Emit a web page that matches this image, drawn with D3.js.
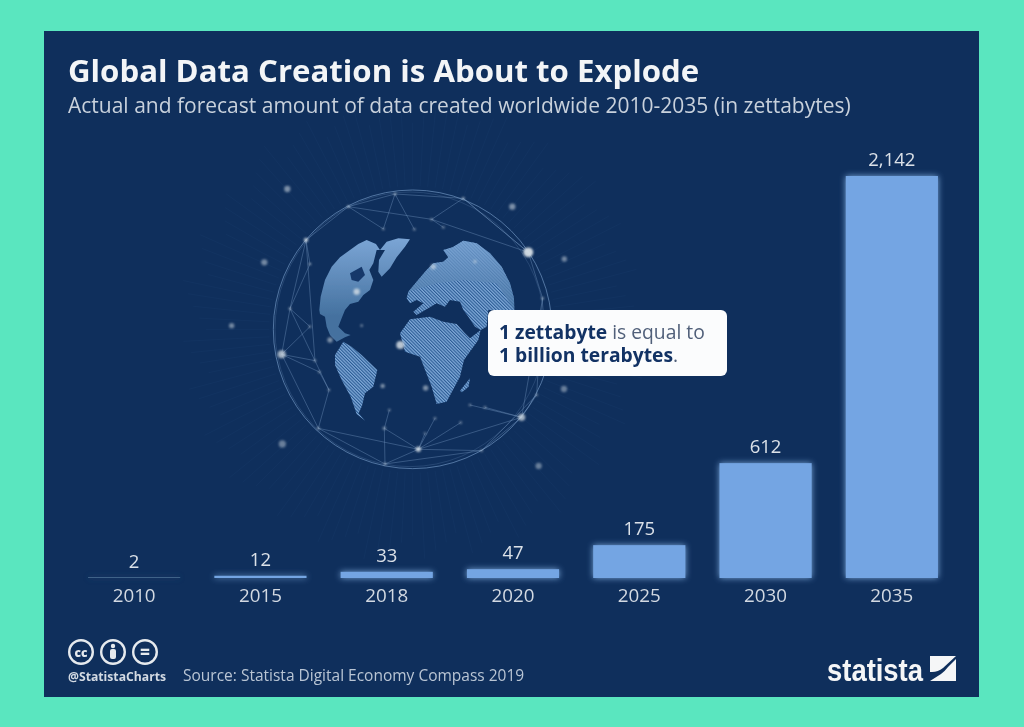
<!DOCTYPE html>
<html><head><meta charset="utf-8">
<script src="https://cdn.jsdelivr.net/npm/d3@7/dist/d3.min.js"></script>
<style>html,body{margin:0;padding:0;background:#5ae6bf;overflow:hidden}svg{display:block;font-family:"Open Sans",sans-serif;filter:blur(0.45px)}</style>
</head><body><svg id="c" width="1024" height="727"></svg>
<script>
const years = ["2010","2015","2018","2020","2025","2030","2035"];
const values = [2,12,33,47,175,612,2142];
const valueLabels = ["2","12","33","47","175","612","2,142"];

// Decorative globe artwork, in reference-crop coordinates
const land = {
  northAmerica:[[268,420],[272,380],[285,330],[305,290],[330,262],[360,240],[385,222],[410,210],[438,222],[450,240],[470,215],[505,205],[540,208],[525,230],[500,262],[480,295],[455,320],[445,305],[447,270],[465,240],[440,240],[430,280],[418,300],[430,330],[420,360],[400,375],[385,395],[360,402],[345,420],[335,445],[325,470],[345,490],[362,495],[345,502],[320,515],[300,495],[290,470],[285,440],[270,432]],
  southAmerica:[[315,555],[340,515],[365,530],[395,555],[442,600],[430,650],[405,670],[396,708],[386,730],[406,752],[380,732],[362,680],[335,630],[315,585]],
  africa:[[510,490],[540,448],[600,440],[640,455],[680,462],[705,490],[720,505],[752,480],[745,510],[702,570],[690,620],[650,695],[620,702],[605,650],[590,612],[570,560],[525,545]],
  eurasia:[[535,365],[560,335],[590,300],[610,280],[640,275],[655,262],[640,240],[668,232],[700,212],[740,220],[780,250],[815,290],[840,340],[852,385],[853,420],[775,420],[770,470],[752,480],[735,470],[715,440],[700,420],[690,395],[660,390],[645,410],[620,400],[600,412],[560,435],[550,425],[580,400],[560,390],[540,400],[530,385]],
  madagascar:[[690,662],[720,625],[716,650],[696,667]]
};
const hudsonBay = [[360,310],[395,290],[405,315],[385,335],[365,330]];
const nodes = [[172,57,7,.55],[847,110,7,.55],[895,247,11,.95],[1003,267,6,.5],[103,277,7,.5],[5,467,6,.5],[155,553,9,.75],[511,525,9,.85],[380,365,7,.8],[228,210,5,.8],[1002,657,7,.45],[875,742,8,.75],[565,838,6,.85],[157,822,8,.45],[926,888,7,.45],[458,648,5,.55],[587,654,6,.55],[610,290,6,.6],[735,275,4,.5],[300,510,6,.55],[495,72,3,.7],[700,85,3,.7],[355,110,3,.7],[240,282,3,.6],[180,416,3,.6],[240,470,3,.5],[255,572,3,.5],[268,606,3,.5],[297,660,3,.5],[265,775,3,.6],[465,882,3,.6],[755,842,3,.5],[920,675,3,.5],[938,385,3,.6],[478,720,3,.5],[463,775,4,.5],[615,745,3,.5],[692,758,3,.5],[585,790,3,.4],[720,705,3,.5],[765,712,3,.5],[460,177,3,.5],[553,178,3,.5],[640,172,3,.5],[605,148,3,.5],[395,467,3,.5]];
const links = [[20,21],[20,22],[21,2],[22,9],[9,23],[9,24],[23,24],[24,6],[6,27],[6,25],[24,25],[6,29],[29,12],[29,28],[12,30],[12,31],[31,11],[11,32],[32,33],[33,2],[2,21],[21,44],[44,22],[20,41],[20,42],[44,43],[44,2],[11,12],[30,31],[30,29],[12,38],[12,37],[12,36],[11,39],[11,40],[22,41],[9,26],[6,26],[27,28],[24,28],[30,35],[35,12],[35,34],[33,11],[32,31]];

const svg = d3.select("#c");
const defs = svg.append("defs");
const soft = defs.append("filter").attr("id","soft").attr("filterUnits","userSpaceOnUse").attr("x",0).attr("y",0).attr("width",1200).attr("height",1000);
soft.append("feGaussianBlur").attr("stdDeviation",1.2);
const glow = defs.append("filter").attr("id","glow").attr("filterUnits","userSpaceOnUse").attr("x",0).attr("y",0).attr("width",1024).attr("height",727);
glow.append("feGaussianBlur").attr("stdDeviation",3.2);
const blurDot = defs.append("filter").attr("id","dot").attr("x","-150%").attr("y","-150%").attr("width","400%").attr("height","400%");
blurDot.append("feGaussianBlur").attr("stdDeviation",2.6);
const pat = defs.append("pattern").attr("id","dots").attr("width",7).attr("height",7).attr("patternUnits","userSpaceOnUse").attr("patternTransform","rotate(45)");
pat.append("rect").attr("width",7).attr("height",7).attr("fill","#2a5a93");
pat.append("rect").attr("width",7).attr("height",3.8).attr("fill","#80a9d8");
const landGrad = defs.append("linearGradient").attr("id","landFill").attr("gradientUnits","userSpaceOnUse").attr("x1",0).attr("y1",210).attr("x2",0).attr("y2",440);
landGrad.append("stop").attr("offset","0").attr("stop-color","#7aa4d4");
landGrad.append("stop").attr("offset","1").attr("stop-color","#44719f");

svg.append("rect").attr("x",44).attr("y",31).attr("width",935).attr("height",666).attr("fill","#0f2f5c");

// Globe
const g = svg.append("g").attr("transform","translate(230,170) scale(0.3333)");
const cx=548, cy=478;
d3.range(0,360,3).forEach(a=>{
  const t=a*Math.PI/180, r0=430, r1=620+((a*7)%90);
  g.append("line").attr("x1",cx+r0*Math.cos(t)).attr("y1",cy+r0*Math.sin(t)).attr("x2",cx+r1*Math.cos(t)).attr("y2",cy+r1*Math.sin(t)).attr("stroke","#3d6a9f").attr("stroke-width",1.5).attr("opacity",.14);
});
const earth = g.append("g").attr("filter","url(#soft)");
const lineGen = d3.line().curve(d3.curveLinearClosed);
earth.append("path").attr("d",lineGen(land.northAmerica)).attr("fill","url(#landFill)");
earth.append("path").attr("d",lineGen(hudsonBay)).attr("fill","#16396b");
earth.append("path").attr("d",lineGen(land.eurasia)).attr("fill","url(#dots)");
earth.append("path").attr("d",lineGen(land.eurasia.slice(0,15).concat([[800,340],[700,330],[620,340]]))).attr("fill","url(#landFill)").attr("opacity",.75);
["southAmerica","africa","madagascar"].forEach(k=>{
  earth.append("path").attr("d",lineGen(land[k])).attr("fill","url(#dots)");
});
g.append("circle").attr("cx",cx).attr("cy",cy).attr("r",418).attr("fill","none").attr("stroke","#6f94c0").attr("stroke-width",3).attr("opacity",.7);
g.append("ellipse").attr("cx",cx-8).attr("cy",cy).attr("rx",405).attr("ry",412).attr("fill","none").attr("stroke","#6f94c0").attr("stroke-width",2).attr("opacity",.35);
g.selectAll("line.l").data(links).join("line").attr("class","l")
  .attr("x1",d=>nodes[d[0]][0]).attr("y1",d=>nodes[d[0]][1]).attr("x2",d=>nodes[d[1]][0]).attr("y2",d=>nodes[d[1]][1])
  .attr("stroke","#7d9fc8").attr("stroke-width",2.2).attr("opacity",.5);
g.selectAll("circle.n").data(nodes).join("circle").attr("class","n")
  .attr("cx",d=>d[0]).attr("cy",d=>d[1]).attr("r",d=>d[2]*1.35).attr("fill","#d6dfe6").attr("opacity",d=>d[3]).attr("filter","url(#dot)");

// Scales and bars
const x = d3.scaleBand().domain(years).range([71,955]).paddingInner(.27).paddingOuter(.135);
const y = d3.scaleLinear().domain([0,2142]).range([578,176]);
const barH = d=>Math.max(1,y(0)-y(d));
const barColor = (d)=> d<5 ? "#3f6288" : "#74a5e3";
const bars = svg.append("g");
bars.selectAll("rect.g").data(values).join("rect").attr("class","g")
  .attr("x",(d,i)=>x(years[i])).attr("y",d=>y(0)-barH(d)).attr("width",x.bandwidth()).attr("height",barH)
  .attr("fill",d=>d<5?"#2d4d78":"#8fbdf0").attr("filter","url(#glow)").attr("opacity",.85);
bars.selectAll("rect.b").data(values).join("rect").attr("class","b")
  .attr("x",(d,i)=>x(years[i])).attr("y",d=>y(0)-barH(d)).attr("width",x.bandwidth()).attr("height",barH)
  .attr("fill",barColor);

const axis = d3.axisBottom(x).tickSize(0).tickPadding(11);
const ax = svg.append("g").attr("transform","translate(0,578)").call(axis);
ax.select(".domain").remove();
ax.selectAll("text").attr("font-family",'"Open Sans",sans-serif').attr("font-size",18.8).attr("fill","#d2d9e2");

svg.append("g").selectAll("text").data(values).join("text")
  .attr("x",(d,i)=>x(years[i])+x.bandwidth()/2).attr("y",d=>y(d)-10)
  .attr("text-anchor","middle").attr("font-size",18.5).attr("fill","#dbe1e8").text((d,i)=>valueLabels[i]);

// Titles
svg.append("text").attr("x",68).attr("y",82).attr("font-size",31.2).attr("font-weight",700).attr("fill","#f3f5f7").text("Global Data Creation is About to Explode");
svg.append("text").attr("x",68).attr("y",113).attr("font-size",21).attr("fill","#c8d1dc").text("Actual and forecast amount of data created worldwide 2010-2035 (in zettabytes)");

// Callout
svg.append("rect").attr("x",488).attr("y",310).attr("width",239).attr("height",66).attr("rx",6).attr("fill","#fbfcfd");
const c1 = svg.append("text").attr("x",499).attr("y",339).attr("font-size",19.3);
c1.append("tspan").attr("font-weight",700).attr("fill","#123264").text("1 zettabyte");
c1.append("tspan").attr("fill","#51607a").text(" is equal to");
const c2 = svg.append("text").attr("x",499).attr("y",362).attr("font-size",19.3);
c2.append("tspan").attr("font-weight",700).attr("fill","#123264").text("1 billion terabytes");
c2.append("tspan").attr("fill","#51607a").text(".");

// Footer
[[81,"cc"],[113,""],[145,"="]].forEach(([cxx,t])=>{
  svg.append("circle").attr("cx",cxx).attr("cy",652).attr("r",11.8).attr("fill","#0f2f5c").attr("stroke","#e6eaee").attr("stroke-width",2.4);
  if(t) svg.append("text").attr("x",cxx).attr("y",t==="="?658:656.5).attr("text-anchor","middle").attr("font-size",t==="="?17:12).attr("font-weight",800).attr("fill","#e6eaee").text(t);
});
svg.append("circle").attr("cx",113).attr("cy",646).attr("r",2.2).attr("fill","#e6eaee");
svg.append("rect").attr("x",110).attr("y",649).attr("width",6).attr("height",10).attr("rx",2).attr("fill","#e6eaee");
svg.append("text").attr("x",68).attr("y",681).attr("font-size",12.2).attr("font-weight",700).attr("fill","#d3dae3").text("@StatistaCharts");
svg.append("text").attr("x",183).attr("y",681).attr("font-size",15.5).attr("fill","#b9c5d4").text("Source: Statista Digital Economy Compass 2019");

// Logo
svg.append("text").attr("x",827).attr("y",681).attr("font-family",'"Liberation Sans Narrow","Liberation Sans",sans-serif').attr("font-size",31).attr("font-weight",700).attr("fill","#f5f6f7").attr("textLength",96).attr("lengthAdjust","spacingAndGlyphs").text("statista");
svg.append("path").attr("d","M930 656H956L943 668Q938 672 932 672H930Z M956 659V681H930L941 674Q945 671 948 667Z").attr("fill","#f5f6f7");
</script></body></html>
